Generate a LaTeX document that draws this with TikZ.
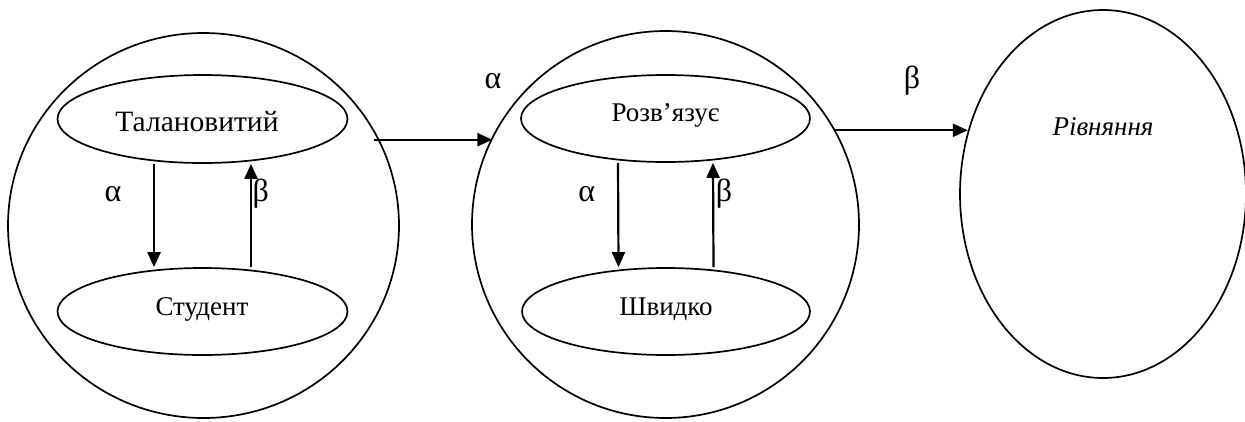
\documentclass[tikz,border=0pt]{standalone}
\usepackage{fontspec}
\setmainfont{Liberation Serif}
\usetikzlibrary{shapes.geometric,arrows.meta}
\begin{document}
\begin{tikzpicture}[x=1pt,y=-1pt,
  outline/.style={draw, ellipse, line width=1.7pt, inner sep=0pt},
  word/.style={anchor=base, inner sep=0pt, font=\fontsize{27}{30}\selectfont},
  greek/.style={anchor=base, inner sep=0pt, font=\fontsize{32}{34}\selectfont},
  arr/.style={line width=2.2pt, -{Triangle[length=15pt,width=13pt]}}]
\useasboundingbox (0,0) rectangle (1245,421);

% outer figures
\node[outline, minimum width=391pt, minimum height=385pt] (c1) at (203.5,225.5) {};
\node[outline, minimum width=387pt, minimum height=387pt] (c2) at (665.5,224.5) {};
\node[outline, minimum width=286pt, minimum height=368pt] (c3) at (1103,194) {};

% inner ellipses
\node[outline, minimum width=290pt, minimum height=88pt] (t1) at (202.5,119) {};
\node[outline, minimum width=290pt, minimum height=87pt] (s1) at (202.5,311.5) {};
\node[outline, minimum width=289pt, minimum height=87pt] (t2) at (665.5,118.5) {};
\node[outline, minimum width=288pt, minimum height=87pt] (s2) at (666,311.5) {};

% words
\node[word, font=\fontsize{29.5}{32}\selectfont] (w1) at (197,131.7) {Талановитий};
\node[word] (w2) at (202,315) {Студент};
\node[word] (w3) at (665.5,121.7) {Розв’язує};
\node[word] (w4) at (666,315) {Швидко};
\node[word, font=\fontsize{27}{30}\selectfont\itshape] (w5) at (1103,135) {Рівняння};

% relations inside the circles
\draw[arr] ([xshift=-48.5pt]t1.south) -- ([xshift=-48.5pt]s1.north);
\draw[arr] ([xshift=48.5pt]s1.north) -- ([xshift=48.5pt]t1.south);
\draw[arr] ([xshift=-47.5pt]t2.south) -- ([xshift=-47.5pt]s2.north);
\draw[arr] ([xshift=47.5pt]s2.north) -- ([xshift=47.5pt]t2.south);

% relations between the figures
\draw[arr] ([xshift=-5pt]c1.26) -- (c1.26 -| c2.153);
\draw[arr] (c2.29) -- (c2.29 -| c3.155);

% relation labels
\node[greek] (la1) at (113,201.7) {α};
\node[greek] (lb1) at (260.7,201.7) {β};
\node[greek] (la2) at (586.7,201.7) {α};
\node[greek] (lb2) at (724,201.7) {β};
\node[greek] (la3) at (493,88) {α};
\node[greek] (lb3) at (912,88) {β};
\end{tikzpicture}
\end{document}
